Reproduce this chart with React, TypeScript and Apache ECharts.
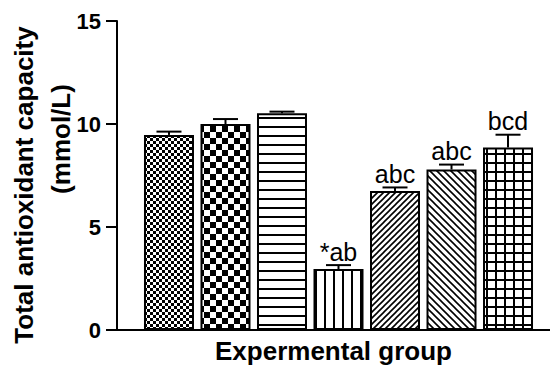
import React, { useEffect, useRef } from "react";
import * as echarts from "echarts";

const categories = ["G1", "G2", "G3", "G4", "G5", "G6", "G7"];
const means = [9.47, 10.0, 10.52, 2.96, 6.75, 7.79, 8.86];
const errors = [0.16, 0.24, 0.08, 0.19, 0.17, 0.24, 0.62];
const letters = ["", "", "", "*ab", "abc", "abc", "bcd"];
const yTicks = [0, 5, 10, 15];
const yMin = 0;
const yMax = 15;
const yInterval = 5;
const xMin = -0.92;
const xMax = 6.743;

const FONT = "'Liberation Sans', Arial, Helvetica, sans-serif";

function makePattern(kind: number) {
  const c = document.createElement("canvas");
  let w = 6, h = 6;
  const setup = (ww: number, hh: number) => {
    w = ww; h = hh; c.width = w; c.height = h;
    const ctx = c.getContext("2d")!;
    ctx.fillStyle = "#fff";
    ctx.fillRect(0, 0, w, h);
    ctx.fillStyle = "#000";
    ctx.strokeStyle = "#000";
    return ctx;
  };
  if (kind === 0) {
    const ctx = setup(6, 6);
    ctx.fillRect(0, 0, 3, 3);
    ctx.fillRect(3, 3, 3, 3);
  } else if (kind === 1) {
    const ctx = setup(12, 12);
    ctx.fillRect(0, 0, 6, 6);
    ctx.fillRect(6, 6, 6, 6);
  } else if (kind === 2) {
    const ctx = setup(8, 9);
    ctx.fillRect(0, 0, 8, 2);
  } else if (kind === 3) {
    const ctx = setup(9, 8);
    ctx.fillRect(0, 0, 2, 8);
  } else if (kind === 4) {
    const s = 6;
    const ctx = setup(s, s);
    ctx.lineWidth = 1.6;
    ctx.beginPath();
    ctx.moveTo(-1, s + 1); ctx.lineTo(s + 1, -1);
    ctx.moveTo(-1, 1); ctx.lineTo(1, -1);
    ctx.moveTo(s - 1, s + 1); ctx.lineTo(s + 1, s - 1);
    ctx.stroke();
  } else if (kind === 5) {
    const s = 7;
    const ctx = setup(s, s);
    ctx.lineWidth = 1.6;
    ctx.beginPath();
    ctx.moveTo(-1, -1); ctx.lineTo(s + 1, s + 1);
    ctx.moveTo(-1, s - 1); ctx.lineTo(1, s + 1);
    ctx.moveTo(s - 1, -1); ctx.lineTo(s + 1, 1);
    ctx.stroke();
  } else {
    const ctx = setup(9, 9);
    ctx.fillRect(0, 0, 2, 9);
    ctx.fillRect(0, 0, 9, 2);
  }
  return {
    image: c.toDataURL(),
    repeat: "repeat",
    imageWidth: w,
    imageHeight: h,
  } as any;
}

export default function App() {
  const ref = useRef<HTMLDivElement>(null);
  useEffect(() => {
    document.body.style.margin = "0";
    if (!ref.current) return;
    const chart = echarts.init(ref.current, null, { renderer: "svg" });
    const barData = means.map((v, i) => ({
      name: categories[i],
      value: [i, v],
      itemStyle: { color: makePattern(i) },
    }));
    const errData = means.map((v, i) => [i, v, errors[i]]);
    chart.setOption({
      animation: false,
      backgroundColor: "#fff",
      grid: { left: 117, right: 0, top: 21, bottom: 37, containLabel: false },
      xAxis: {
        type: "value",
        min: xMin,
        max: xMax,
        axisLine: { show: true, onZero: false, lineStyle: { color: "#000", width: 2 } },
        axisTick: { show: false },
        axisLabel: { show: false },
        splitLine: { show: false },
        name: "Expermental group",
        nameLocation: "middle",
        nameGap: 8,
        nameTextStyle: {
          fontFamily: FONT,
          fontWeight: "bold",
          fontSize: 26,
          color: "#000",
          verticalAlign: "top",
          lineHeight: 26,
        },
      },
      yAxis: {
        type: "value",
        min: yMin,
        max: yMax,
        interval: yInterval,
        axisLine: { show: true, onZero: false, lineStyle: { color: "#000", width: 2 } },
        axisTick: { show: true, length: 11, lineStyle: { color: "#000", width: 2 } },
        axisLabel: {
          fontFamily: FONT,
          fontWeight: "bold",
          fontSize: 22,
          color: "#000",
          margin: 16,
        },
        splitLine: { show: false },
      },
      graphic: [
        {
          type: "text",
          x: 24,
          y: 185,
          rotation: Math.PI / 2,
          style: {
            text: "Total antioxidant capacity",
            font: `bold 26px ${FONT}`,
            fill: "#000",
            textAlign: "center",
            textVerticalAlign: "middle",
          },
        },
        {
          type: "text",
          x: 61,
          y: 139,
          rotation: Math.PI / 2,
          style: {
            text: "(mmol/L)",
            font: `bold 26px ${FONT}`,
            fill: "#000",
            textAlign: "center",
            textVerticalAlign: "middle",
          },
        },
      ],
      series: [
        {
          type: "bar",
          barWidth: 50,
          data: barData,
          itemStyle: { borderColor: "#000", borderWidth: 2 },
        },
        {
          type: "custom",
          data: errData,
          z: 5,
          clip: false,
          renderItem: (params: any, api: any) => {
            const x = api.value(0);
            const m = api.value(1);
            const e = api.value(2);
            const p0 = api.coord([x, m]);
            const p1 = api.coord([x, m + e]);
            const idx = params.dataIndex;
            const children: any[] = [
              {
                type: "line",
                shape: { x1: p0[0], y1: p0[1], x2: p1[0], y2: p1[1] },
                style: { stroke: "#000", lineWidth: 2 },
              },
              {
                type: "line",
                shape: { x1: p1[0] - 12.5, y1: p1[1], x2: p1[0] + 12.5, y2: p1[1] },
                style: { stroke: "#000", lineWidth: 2 },
              },
            ];
            if (letters[idx]) {
              children.push({
                type: "text",
                x: p1[0],
                y: p1[1] - 1,
                style: {
                  text: letters[idx],
                  font: `25px ${FONT}`,
                  fill: "#000",
                  textAlign: "center",
                  textVerticalAlign: "bottom",
                },
              });
            }
            if (idx === 0) {
              yTicks.forEach((t) => {
                const q = api.coord([xMin, t]);
                children.push({
                  type: "line",
                  shape: { x1: q[0] - 11, y1: q[1], x2: q[0], y2: q[1] },
                  style: { stroke: "#000", lineWidth: 2 },
                });
              });
            }
            return { type: "group", children };
          },
        },
      ],
    });
    return () => chart.dispose();
  }, []);
  return <div ref={ref} style={{ width: 550, height: 369 }} />;
}
